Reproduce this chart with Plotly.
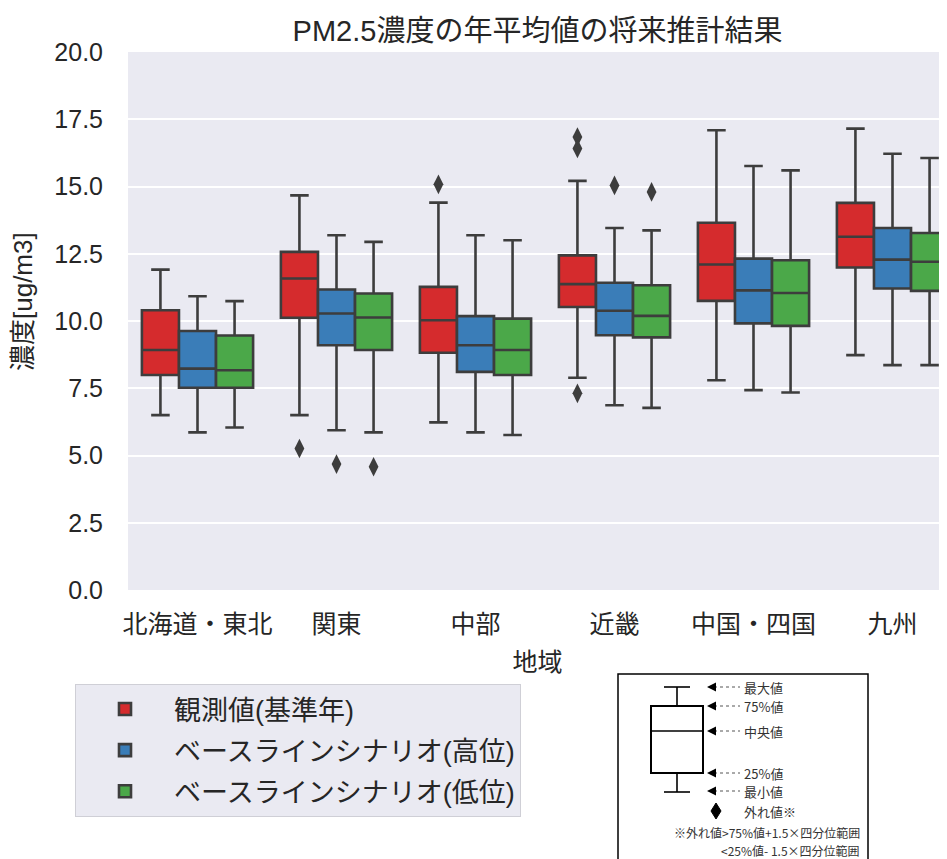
import plotly.graph_objects as go

# ---------------- data ----------------
regions = ["北海道・東北", "関東", "中部", "近畿", "中国・四国", "九州"]
series_names = ["観測値(基準年)", "ベースラインシナリオ(高位)", "ベースラインシナリオ(低位)"]
series_colors = ["#d52b2d", "#3a7db8", "#4ba849"]

# observed (base year)
obs_low = [6.50, 6.50, 6.23, 7.89, 7.80, 8.73]
obs_q1 = [7.99, 10.12, 8.82, 10.52, 10.75, 11.99]
obs_med = [8.92, 11.58, 10.03, 11.37, 12.10, 13.13]
obs_q3 = [10.40, 12.57, 11.27, 12.44, 13.65, 14.39]
obs_high = [11.91, 14.67, 14.40, 15.21, 17.09, 17.15]
obs_out = [[], [5.26], [15.08], [16.84, 16.41, 7.31], [], []]

# baseline scenario (high)
high_low = [5.86, 5.94, 5.86, 6.87, 7.43, 8.36]
high_q1 = [7.52, 9.10, 8.11, 9.47, 9.91, 11.21]
high_med = [8.23, 10.28, 9.10, 10.38, 11.14, 12.28]
high_q3 = [9.63, 11.17, 10.18, 11.42, 12.32, 13.46]
high_high = [10.92, 13.19, 13.19, 13.46, 15.76, 16.22]
high_out = [[], [4.68], [], [15.04], [], []]

# baseline scenario (low)
low_low = [6.04, 5.86, 5.76, 6.77, 7.34, 8.36]
low_q1 = [7.52, 8.92, 7.99, 9.39, 9.82, 11.12]
low_med = [8.17, 10.13, 8.92, 10.19, 11.04, 12.20]
low_q3 = [9.46, 11.02, 10.09, 11.33, 12.26, 13.27]
low_high = [10.74, 12.94, 13.00, 13.37, 15.60, 16.06]
low_out = [[], [4.58], [], [14.80], [], []]

y_ticks = [0.0, 2.5, 5.0, 7.5, 10.0, 12.5, 15.0, 17.5, 20.0]

stats = [
    (obs_low, obs_q1, obs_med, obs_q3, obs_high, obs_out),
    (high_low, high_q1, high_med, high_q3, high_high, high_out),
    (low_low, low_q1, low_med, low_q3, low_high, low_out),
]

# ---------------- figure ----------------
OFF = 8                      # default page body margin
W, H = 947 - OFF, 859 - OFF  # figure size
PL, PR, PT, PB = 128, 947, 52, 590  # plot area in page pixels
edge = "#3d3d3d"
n_hue = len(series_names)
box_w = 0.8 / n_hue
px_per_cat = 139.0
x_max = (PR - PL) / px_per_cat - 0.5

fig = go.Figure()
for j, (lo, q1, med, q3, hi, outs) in enumerate(stats):
    offset = (j - (n_hue - 1) / 2) * box_w
    xs = [i + offset for i in range(len(regions))]
    fig.add_trace(go.Box(
        name=series_names[j], legendgroup=f"g{j}",
        x=xs, q1=q1, median=med, q3=q3, lowerfence=lo, upperfence=hi,
        width=box_w, whiskerwidth=0.5,
        fillcolor=series_colors[j],
        line=dict(color=edge, width=2.6),
        hoverinfo="skip",
    ))
    ox, oy = [], []
    for i, vals in enumerate(outs):
        for v in vals:
            ox.append(i + offset)
            oy.append(v)
    fig.add_trace(go.Scatter(
        x=ox, y=oy, mode="markers", showlegend=False, legendgroup=f"g{j}",
        marker=dict(symbol="diamond-tall", size=14, color=edge,
                    line=dict(width=0)),
        hoverinfo="skip",
    ))

def fx(p):
    return (p - PL) / (PR - PL)

def fy(p):
    return (PB - p) / (PB - PT)

fig.update_layout(
    width=W, height=H,
    margin=dict(l=PL - OFF, r=0, t=PT - OFF, b=H - (PB - OFF)),
    paper_bgcolor="white",
    plot_bgcolor="#eaeaf2",
    boxmode="overlay",
    showlegend=True,
    font=dict(family="Liberation Sans, Noto Sans CJK JP", color="#262626"),
    title=dict(text="PM2.5濃度の年平均値の将来推計結果",
               x=0.5, xref="paper", xanchor="center",
               y=1 - (31 - OFF) / H, yanchor="middle",
               font=dict(size=29, family="Liberation Sans, Noto Sans CJK JP", color="#262626")),
    legend=dict(
        x=fx(75), y=fy(684),
        xanchor="left", yanchor="top",
        bgcolor="#eaeaf2", bordercolor="#cfcfd6", borderwidth=1,
        font=dict(size=27, family="Liberation Sans, Noto Sans CJK JP", color="#262626"),
        itemwidth=88, tracegroupgap=3,
    ),
)

fig.update_xaxes(
    range=[-0.5, x_max],
    tickvals=list(range(len(regions))), ticktext=regions,
    showgrid=False, zeroline=False, showline=False, ticks="",
    tickfont=dict(size=25, family="Noto Sans CJK JP", color="#262626"),
    ticklabelstandoff=17,
    title=dict(text="地域", standoff=14,
               font=dict(size=25, family="Noto Sans CJK JP", color="#262626")),
)
fig.update_yaxes(
    range=[0, 20], tickvals=y_ticks, tickformat=".1f",
    showgrid=True, gridcolor="white", gridwidth=2,
    zeroline=False, showline=False, ticks="",
    tickfont=dict(size=25, family="Liberation Sans", color="#262626"),
    ticklabelstandoff=24,
)

shapes = []
annotations = []
# y-axis title
annotations.append(dict(xref="paper", yref="paper", x=fx(23), y=fy(302),
                        text="濃度[ug/m3]", textangle=-90, showarrow=False,
                        xanchor="center", yanchor="middle",
                        font=dict(size=26, family="Liberation Sans, Noto Sans CJK JP",
                                  color="#262626")))

# ---------------- explanatory inset (layout only) ----------------
shapes.append(dict(type="rect", xref="paper", yref="paper",
                   x0=fx(618), x1=fx(868), y0=fy(674), y1=fy(875),
                   line=dict(color="black", width=1.5), fillcolor="white", layer="above"))
shapes.append(dict(type="rect", xref="paper", yref="paper",
                   x0=fx(651), x1=fx(703), y0=fy(706), y1=fy(773),
                   line=dict(color="black", width=2), layer="above"))
for seg in [((651, 731), (703, 731)), ((677, 687), (677, 706)), ((677, 773), (677, 792)),
            ((664, 687), (690, 687)), ((664, 792), (690, 792))]:
    (a, b), (c, d) = seg
    shapes.append(dict(type="line", xref="paper", yref="paper",
                       x0=fx(a), y0=fy(b), x1=fx(c), y1=fy(d),
                       line=dict(color="black", width=1.6), layer="above"))
labels = ["最大値", "75%値", "中央値", "25%値", "最小値"]
rows = [687, 706, 731, 773, 791]
inset_font = dict(size=13, family="Noto Sans CJK JP", color="#333333")
note_font = dict(size=12, family="Noto Sans CJK JP", color="#333333")
for lab, r in zip(labels, rows):
    shapes.append(dict(type="line", xref="paper", yref="paper",
                       x0=fx(714), y0=fy(r), x1=fx(740), y1=fy(r),
                       line=dict(color="#555555", width=1, dash="dot"), layer="above"))
    annotations.append(dict(xref="paper", yref="paper", x=fx(707), y=fy(r),
                            ax=10, ay=0, text="", showarrow=True,
                            arrowhead=2, arrowsize=1.2, arrowwidth=1.5,
                            arrowcolor="black"))
    annotations.append(dict(xref="paper", yref="paper", x=fx(742), y=fy(r),
                            xanchor="left", yanchor="middle", text=lab,
                            showarrow=False, font=inset_font))
shapes.append(dict(type="path", xref="paper", yref="paper", layer="above",
                   path=f"M {fx(716)} {fy(803)} L {fx(721)} {fy(811)} L {fx(716)} {fy(819)} L {fx(711)} {fy(811)} Z",
                   fillcolor="black", line=dict(color="black", width=1)))
annotations.append(dict(xref="paper", yref="paper", x=fx(742), y=fy(811),
                        xanchor="left", yanchor="middle", text="外れ値※",
                        showarrow=False, font=inset_font))
annotations.append(dict(xref="paper", yref="paper", x=fx(862), y=fy(832),
                        xanchor="right", yanchor="middle",
                        text="※外れ値>75%値+1.5×四分位範囲",
                        showarrow=False, font=note_font))
annotations.append(dict(xref="paper", yref="paper", x=fx(862), y=fy(850),
                        xanchor="right", yanchor="middle",
                        text="<25%値- 1.5×四分位範囲",
                        showarrow=False, font=note_font))

fig.update_layout(shapes=shapes, annotations=annotations)

fig.write_html("out.html")
